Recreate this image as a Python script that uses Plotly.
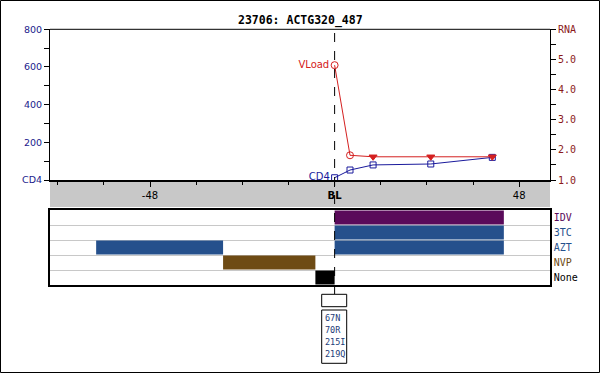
import plotly.graph_objects as go

# ---------------- data ----------------
title_text = "23706: ACTG320_487"

vl_weeks = [0, 4, 10, 25, 41]
vl_values = [4.81, 1.82, 1.77, 1.77, 1.77]
vl_symbols = ["circle-open", "circle-open", "triangle-down", "triangle-down", "triangle-down"]

cd4_weeks = [0, 4, 10, 25, 41]
cd4_values = [12, 53, 80, 85, 120]

x_tickvals = [-48, 0, 48]
x_ticktext = ["-48", "<b>BL</b>", "48"]

cd4_tickvals = [0, 200, 400, 600, 800]
cd4_ticktext = ["CD4", "200", "400", "600", "800"]

rna_tickvals = [1, 2, 3, 4, 5, 6]
rna_ticktext = ["1.0", "2.0", "3.0", "4.0", "5.0", "RNA"]

drugs = ["IDV", "3TC", "AZT", "NVP", "None"]
drug_colors = ["#5a0a5a", "#25508c", "#25508c", "#6e4b14", "#000000"]

bar_drug = ["IDV", "3TC", "AZT", "AZT", "NVP", "None"]
bar_start = [0, 0, 0, -62, -29, -5]
bar_end = [44, 44, 44, -29, -5, 0]

mutations = ["67N", "70R", "215I", "219Q"]

# ---------------- layout helpers ----------------
W, H = 600, 373
ML, MR = 50, 50
PW = W - ML - MR


def py(p):
    return (H - p) / H


def px(p):
    return (p - ML) / PW


X_RANGE = [-74, 56]
main_dom = [py(180), py(29.3)]
drug_dom = [py(285), py(210)]

fig = go.Figure()

# CD4 line
fig.add_trace(go.Scatter(
    x=cd4_weeks, y=cd4_values, mode="lines+markers+text",
    text=["CD4"] + [""] * (len(cd4_weeks) - 1), textposition="middle left",
    textfont=dict(family="DejaVu Sans", size=10, color="#1a1a9c"),
    line=dict(color="#1a1a9c", width=1),
    marker=dict(symbol="square-open", size=6, color="#1a1a9c", line=dict(width=1)),
    xaxis="x", yaxis="y", showlegend=False, hoverinfo="skip",
))

# Viral load line
fig.add_trace(go.Scatter(
    x=vl_weeks, y=vl_values, mode="lines+markers+text",
    text=["VLoad"] + [""] * (len(vl_weeks) - 1), textposition="middle left",
    textfont=dict(family="DejaVu Sans", size=10, color="#d42020"),
    line=dict(color="#d42020", width=1),
    marker=dict(symbol=vl_symbols, size=7, color="#d42020", line=dict(width=1, color="#d42020")),
    xaxis="x", yaxis="y3", showlegend=False, hoverinfo="skip",
))

# Drug bars
drug_pos = {d: len(drugs) - 1 - i for i, d in enumerate(drugs)}
drug_col = dict(zip(drugs, drug_colors))
for d, s, e in zip(bar_drug, bar_start, bar_end):
    fig.add_trace(go.Bar(
        x=[e - s], base=[s], y=[drug_pos[d]], orientation="h",
        marker=dict(color=drug_col[d], line=dict(width=0)),
        width=0.93, xaxis="x2", yaxis="y2", showlegend=False, hoverinfo="skip",
    ))

fig.update_layout(
    width=W, height=H,
    margin=dict(l=ML, r=MR, t=0, b=0, pad=0, autoexpand=False),
    paper_bgcolor="white", plot_bgcolor="white",
    barmode="overlay",
    xaxis=dict(
        domain=[0, 1], range=X_RANGE, anchor="y",
        tickmode="array", tickvals=x_tickvals, ticktext=x_ticktext,
        ticks="outside", ticklen=5, tickcolor="black", tickwidth=1,
        minor=dict(dtick=12, tick0=0, ticks="outside", ticklen=3, tickcolor="black"),
        tickfont=dict(family="DejaVu Sans", size=10, color="black"),
        showline=True, linecolor="black", linewidth=2,
        showgrid=False, zeroline=False,
    ),
    yaxis=dict(
        domain=main_dom, range=[0, 800], anchor="x",
        tickmode="array", tickvals=cd4_tickvals, ticktext=cd4_ticktext,
        ticks="outside", ticklen=5, tickcolor="black",
        minor=dict(dtick=100, tick0=0, ticks="outside", ticklen=5, tickcolor="black"),
        tickfont=dict(family="DejaVu Sans", size=9.5, color="#1a1a8c"),
        showline=True, linecolor="black", linewidth=1,
        showgrid=False, zeroline=False,
    ),
    yaxis3=dict(
        domain=main_dom, range=[1, 6], anchor="x", overlaying="y", side="right",
        tickmode="array", tickvals=rna_tickvals, ticktext=rna_ticktext,
        ticks="outside", ticklen=5, tickcolor="black",
        minor=dict(dtick=0.5, tick0=1, ticks="outside", ticklen=5, tickcolor="black"),
        tickfont=dict(family="DejaVu Sans Mono", size=10, color="#8b1a1a"),
        showline=True, linecolor="black", linewidth=1,
        showgrid=False, zeroline=False,
    ),
    xaxis2=dict(
        domain=[0, 1], range=X_RANGE, anchor="y2",
        showticklabels=False, ticks="",
        showline=True, mirror=True, linecolor="black", linewidth=1.5,
        showgrid=False, zeroline=False,
    ),
    yaxis2=dict(
        domain=drug_dom, range=[-0.5, len(drugs) - 0.5], anchor="x2", side="right",
        tickmode="array", tickvals=[drug_pos[d] for d in drugs],
        ticktext=["<span style='color:%s'>%s</span>" % (drug_col[d], d) for d in drugs],
        ticks="", tickfont=dict(family="DejaVu Sans Mono", size=10),
        minor=dict(tickmode="array", tickvals=[i + 0.5 for i in range(len(drugs) - 1)],
                   showgrid=True, gridcolor="#c8c8c8", gridwidth=1, ticks=""),
        showline=True, mirror=True, linecolor="black", linewidth=1.5,
        showgrid=False, zeroline=False,
    ),
)

shapes = [
    # gray band under the time axis
    dict(type="rect", xref="paper", yref="paper", x0=0, x1=1, y0=py(207), y1=py(181),
         fillcolor="#c8c8c8", line=dict(width=0), layer="below"),
    # top border of main plot
    dict(type="line", xref="paper", yref="paper", x0=0, x1=1, y0=main_dom[1], y1=main_dom[1],
         line=dict(color="black", width=1)),
    # baseline dashed line
    dict(type="line", xref="x", yref="paper", x0=0, x1=0, y0=py(294), y1=main_dom[1],
         line=dict(color="black", width=1, dash="dash"), layer="above"),
    # mutation boxes
    dict(type="rect", xref="paper", yref="paper", x0=px(321.7), x1=px(346.7), y0=py(306.7), y1=py(294.3),
         line=dict(color="black", width=1), fillcolor="white"),
    dict(type="rect", xref="paper", yref="paper", x0=px(321.7), x1=px(346.7), y0=py(363.3), y1=py(310),
         line=dict(color="black", width=1), fillcolor="white"),
    # outer frame
    dict(type="rect", xref="paper", yref="paper", x0=px(0.5), x1=px(599.5), y0=py(372.5), y1=py(0.5),
         line=dict(color="black", width=1)),
]

annotations = [
    dict(text="<b>%s</b>" % title_text, xref="paper", yref="paper", x=0.5, y=py(20),
         xanchor="center", yanchor="middle", showarrow=False,
         font=dict(family="DejaVu Sans Mono", size=11.5, color="black")),
]
for i, m in enumerate(mutations):
    annotations.append(dict(
        text=m, xref="paper", yref="paper", x=px(323), y=py(317.7 + i * 12.2),
        xanchor="left", yanchor="middle", showarrow=False,
        font=dict(family="DejaVu Sans Mono", size=8.5, color="#1c3c78")))

fig.update_layout(shapes=shapes, annotations=annotations)

fig.write_html(
    "out.html",
    config={"displayModeBar": False},
    post_script="document.body.style.margin='0';document.body.style.padding='0';"
                "document.body.style.overflow='hidden';",
)
